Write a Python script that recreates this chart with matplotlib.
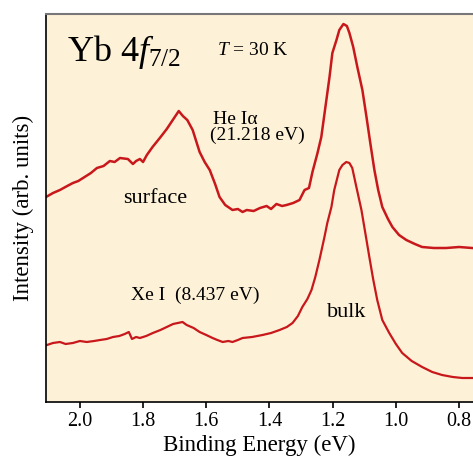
import matplotlib.pyplot as plt
import numpy as np

plt.rcParams['font.family'] = ['Liberation Serif', 'DejaVu Serif']
plt.rcParams['mathtext.fontset'] = 'custom'
plt.rcParams['mathtext.rm'] = 'Liberation Serif'
plt.rcParams['mathtext.it'] = 'Liberation Serif:italic'

# He I alpha spectrum (surface + bulk)
he_energy = [2.107, 2.085, 2.063, 2.040, 2.022, 2.005, 1.990, 1.965, 1.946, 1.925,
             1.905, 1.890, 1.873, 1.848, 1.832, 1.822, 1.810, 1.800, 1.788, 1.770,
             1.747, 1.725, 1.706, 1.687, 1.674, 1.660, 1.643, 1.621, 1.605, 1.589,
             1.572, 1.558, 1.540, 1.517, 1.500, 1.485, 1.472, 1.450, 1.430, 1.409,
             1.395, 1.378, 1.360, 1.346, 1.325, 1.305, 1.289, 1.275, 1.264, 1.248,
             1.236, 1.223, 1.210, 1.201, 1.188, 1.179, 1.166, 1.155, 1.147, 1.135,
             1.122, 1.106, 1.093, 1.081, 1.068, 1.056, 1.043, 1.025, 1.011, 0.990,
             0.967, 0.940, 0.917, 0.880, 0.841, 0.800, 0.759]
he_intensity = [205, 209, 212, 216, 219, 221, 224, 229, 234, 236,
                241, 240, 244, 243, 238, 241, 243, 240, 247, 255,
                264, 273, 282, 291, 286, 282, 272, 250, 240, 232,
                218, 205, 197, 192, 193, 190, 192, 191, 194, 196,
                193, 198, 196, 197, 199, 202, 212, 214, 230, 249,
                265, 295, 325, 349, 362, 372, 378, 376, 369, 355,
                335, 312, 285, 259, 232, 212, 195, 183, 175, 167,
                162, 158, 155, 154, 154, 155, 154]

# Xe I spectrum (bulk sensitive)
xe_energy = [2.104, 2.085, 2.063, 2.045, 2.022, 2.000, 1.978, 1.955, 1.936, 1.915,
             1.895, 1.875, 1.858, 1.845, 1.835, 1.822, 1.810, 1.790, 1.769, 1.745,
             1.725, 1.705, 1.690, 1.675, 1.662, 1.640, 1.621, 1.600, 1.580, 1.565,
             1.548, 1.530, 1.517, 1.500, 1.485, 1.455, 1.422, 1.395, 1.368, 1.345,
             1.327, 1.310, 1.296, 1.280, 1.267, 1.255, 1.242, 1.226, 1.217, 1.204,
             1.195, 1.179, 1.169, 1.157, 1.147, 1.138, 1.125, 1.109, 1.093, 1.084,
             1.072, 1.059, 1.043, 1.021, 1.000, 0.980, 0.950, 0.917, 0.885, 0.854,
             0.820, 0.790, 0.759]
xe_intensity = [57, 59, 60, 58, 59, 61, 60, 61, 62, 63,
                65, 66, 68, 70, 63, 65, 64, 66, 69, 72,
                75, 78, 79, 80, 77, 74, 70, 67, 64, 62,
                60, 61, 60, 62, 64, 65, 67, 69, 72, 75,
                79, 86, 95, 103, 112, 125, 142, 165, 179, 195,
                212, 232, 237, 240, 239, 234, 215, 192, 162, 145,
                123, 102, 82, 69, 58, 49, 41, 35, 30, 27,
                25, 24, 24]

xticks = [2.0, 1.8, 1.6, 1.4, 1.2, 1.0, 0.8]
xtick_labels = ['2.0', '1.8', '1.6', '1.4', '1.2', '1.0', '0.8']

fig = plt.figure(figsize=(4.73, 4.61), dpi=100)
ax = fig.add_axes([0.0973, 0.128, 0.9027, 0.8416])
ax.set_facecolor('#fdf2d7')

red = '#c8181c'
ax.plot(he_energy, he_intensity, color=red, lw=1.8)
ax.plot(xe_energy, xe_intensity, color=red, lw=1.6)

ax.set_xlim(2.107, 0.756)
ax.set_ylim(0, 388)
ax.set_yticks([])
ax.set_xticks(xticks)
ax.set_xticklabels(xtick_labels)
ax.tick_params(axis='x', direction='out', length=4, width=1.2, labelsize=14.5, pad=3)

ax.spines['right'].set_visible(False)
ax.spines['top'].set_color('#777777')
ax.spines['top'].set_linewidth(1.5)
ax.spines['left'].set_linewidth(1.2)
ax.spines['bottom'].set_linewidth(1.2)

ax.set_xlabel('Binding Energy (eV)', fontsize=16.5, labelpad=3)
ax.set_ylabel('Intensity (arb. units)', fontsize=16.5, labelpad=9)

ax.text(0.05, 0.88, r'Yb 4$\mathit{f}_{7/2}$', transform=ax.transAxes, fontsize=26)
ax.text(0.40, 0.895, r'$\mathit{T}$ = 30 K', transform=ax.transAxes, fontsize=14)
ax.text(0.39, 0.717, 'He I\u03b1', transform=ax.transAxes, fontsize=14)
ax.text(0.385, 0.675, '(21.218 eV)', transform=ax.transAxes, fontsize=14)
ax.text(0.18, 0.525, 'surface', transform=ax.transAxes, fontsize=16, va='center')
ax.text(0.20, 0.275, 'Xe I  (8.437 eV)', transform=ax.transAxes, fontsize=14, va='center')
ax.text(0.658, 0.23, 'bulk', transform=ax.transAxes, fontsize=16, va='center')

fig.savefig('out.png', dpi=100, facecolor='white')
